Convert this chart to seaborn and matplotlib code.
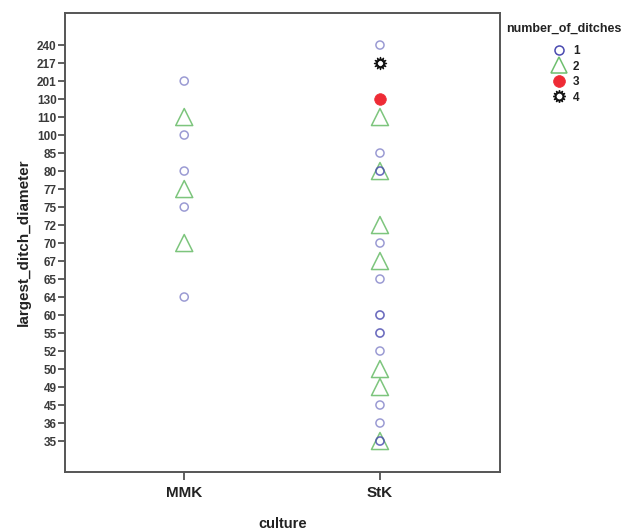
import matplotlib
matplotlib.use('Agg')
import matplotlib.pyplot as plt
import seaborn as sns
import pandas as pd
from matplotlib.lines import Line2D

# ordered y categories (bottom to top)
diameter_levels = ['35', '36', '45', '49', '50', '52', '55', '60', '64', '65', '67', '70',
                   '72', '75', '77', '80', '85', '100', '110', '130', '201', '217', '240']
culture_levels = ['MMK', 'StK']

culture = ['MMK'] * 8 + ['StK'] * 24
diameter = ['201', '110', '100', '80', '77', '75', '70', '64',
            '240', '217', '130', '110', '85', '80', '80', '80', '72', '70', '67', '65',
            '60', '60', '55', '55', '52', '50', '49', '45', '36', '35', '35', '35']
ditches = [1, 2, 1, 1, 2, 1, 2, 1,
           1, 4, 3, 2, 1, 1, 1, 2, 2, 1, 2, 1,
           1, 1, 1, 1, 1, 2, 2, 1, 1, 1, 1, 2]

df = pd.DataFrame({'culture': culture, 'diameter': diameter, 'ditches': ditches})
df['x'] = df['culture'].map(culture_levels.index)
df['y'] = df['diameter'].map(diameter_levels.index)

sns.set_style('white')
plt.rcParams['font.family'] = ['Liberation Sans', 'DejaVu Sans']

fig = plt.figure(figsize=(6.27, 5.29), dpi=100)
ax = fig.add_axes([0.1037, 0.1078, 0.6937, 0.8676])

styles = {
    1: dict(marker='o', s=34, facecolors='none', edgecolors='#4a4ab0', linewidths=1.1, alpha=0.55),
    2: dict(marker='^', s=150, facecolors='none', edgecolors='#6fbf6f', linewidths=1.1, alpha=0.9),
    3: dict(marker='o', s=70, facecolors='#ee2b35', edgecolors='#ee2b35', linewidths=0.5),
    4: dict(marker=(12, 1, 0), s=75, facecolors='white', edgecolors='#111111', linewidths=1.0),
}
for n in [2, 1, 3, 4]:
    sub = df[df['ditches'] == n]
    sns.scatterplot(data=sub, x='x', y='y', ax=ax, legend=False, zorder=3, **styles[n])

ax.set_xlim(-0.609, 1.613)
ax.set_ylim(-1.72, 23.78)
ax.set_xticks(range(len(culture_levels)))
ax.set_xticklabels(culture_levels, fontsize=11, fontweight='bold', color='#222222')
ax.set_yticks(range(len(diameter_levels)))
ax.set_yticklabels(diameter_levels, fontsize=8.5, fontweight='bold', color='#3a3a3a')
ax.tick_params(axis='x', direction='out', length=6, width=1.2, color='#444444', pad=4,
               bottom=True)
ax.tick_params(axis='y', direction='out', length=5, width=1.2, color='#444444', pad=1,
               left=True)
for sp in ax.spines.values():
    sp.set_color('#555555')
    sp.set_linewidth(1.4)

ax.set_xlabel('culture', fontsize=10.5, fontweight='bold', color='#222222', labelpad=12)
ax.set_ylabel('largest_ditch_diameter', fontsize=11, fontweight='bold', color='#222222',
              labelpad=4)

handles = []
for n in [1, 2, 3, 4]:
    st = styles[n]
    handles.append(Line2D([], [], linestyle='none', marker=st['marker'],
                          markersize={1: 6.5, 2: 12, 3: 8.5, 4: 9}[n],
                          markerfacecolor=st['facecolors'], markeredgecolor=st['edgecolors'],
                          markeredgewidth=st['linewidths'], label=str(n)))
leg = fig.legend(handles=handles, title='number_of_ditches', loc='upper left',
                 bbox_to_anchor=(0.808, 0.956), frameon=False, fontsize=8.5,
                 title_fontsize=9, handletextpad=0.4, labelspacing=0.3,
                 borderaxespad=0, borderpad=0, handlelength=1.6)
leg._legend_box.sep = 7
for t in leg.get_texts():
    t.set_fontweight('bold')
    t.set_color('#222222')
leg.get_title().set_color('#222222')
leg.get_title().set_fontweight('bold')

fig.savefig('out.png', dpi=100)
